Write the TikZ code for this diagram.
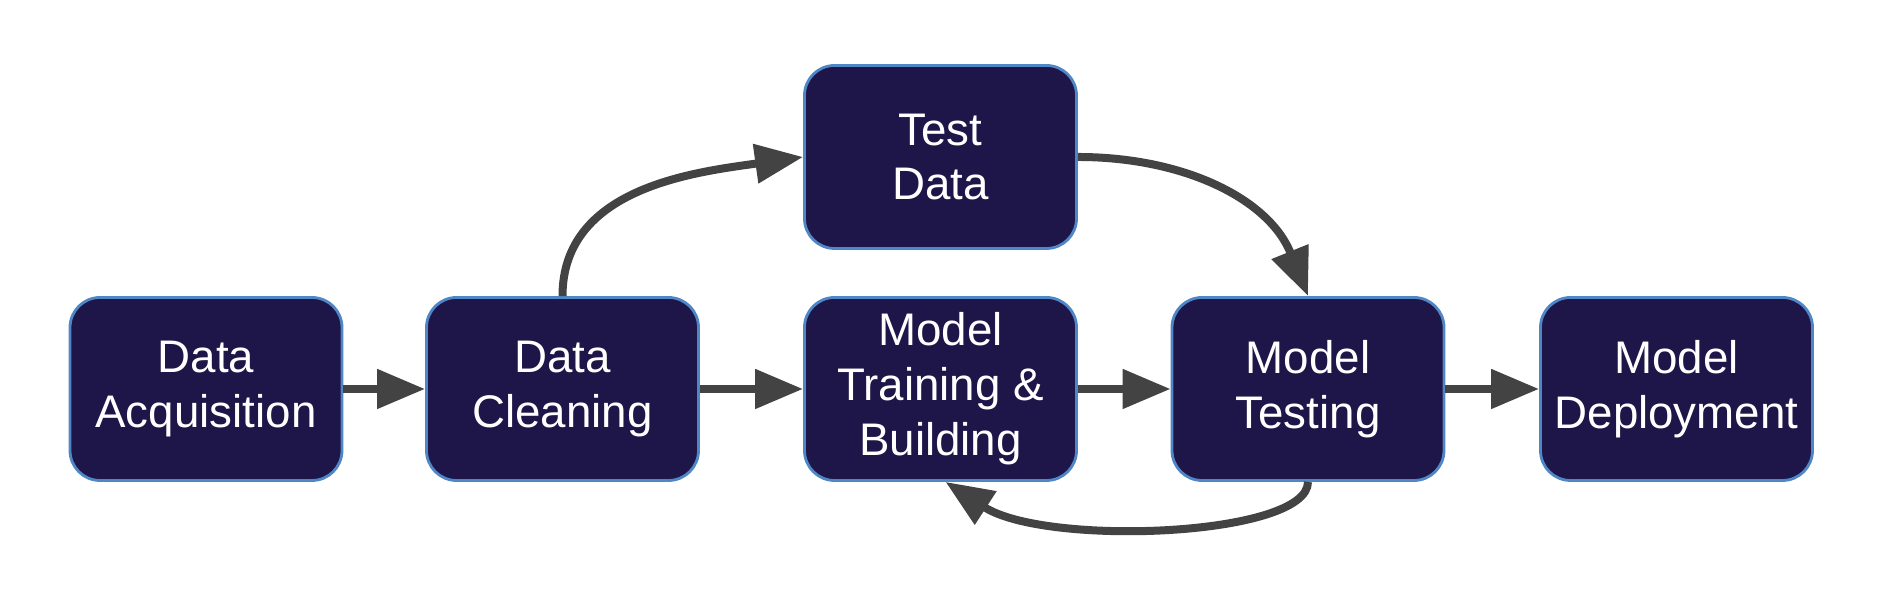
\documentclass[tikz,border=0pt]{standalone}
\usepackage{fontspec}
\setmainfont{Liberation Sans}
\usetikzlibrary{arrows.meta}
\definecolor{boxfill}{HTML}{1E1548}
\definecolor{boxline}{HTML}{4F86C6}
\definecolor{arrowgray}{HTML}{434343}
\tikzset{
  stage/.style={draw=boxline, line width=0.8pt, fill=boxfill, rounded corners=0.3cm,
    minimum width=2.72cm, minimum height=1.83cm, text=white, align=center,
    font=\fontsize{13}{15.6}\selectfont},
  flow/.style={draw=arrowgray, line width=0.08cm, -{Triangle[length=0.48cm,width=0.38cm]}},
}
\begin{document}
\begin{tikzpicture}
      \useasboundingbox (0,0) rectangle (18.78,5.90);
      \draw
        (2.06,2.01) node[stage] (acq){Data\\Acquisition}
        (5.625,2.01) node[stage] (clean){Data\\Cleaning}
        (9.405,4.33) node[stage] (test){Test\\Data}
        (9.405,2.01) node[stage] (train){Model\\Training \&\\Building}
        (13.08,2.01) node[stage] (testing){Model\\Testing}
        (16.765,2.01) node[stage] (deploy){Model\\Deployment};
      \begin{scope}[flow]
        \draw (acq) to (clean);
        \draw (clean) to (train);
        \draw (train) to (testing);
        \draw (testing) to (deploy);
        \draw (clean.north) to[out=90, in=188] (test.west);
        \draw (test.east) to[out=0, in=112] (testing.north);
        \draw (testing.south) .. controls +(0,-0.55) and +(1.0,-0.65) .. ([xshift=0.05cm]train.south);
      \end{scope}
    \end{tikzpicture}
\end{document}
